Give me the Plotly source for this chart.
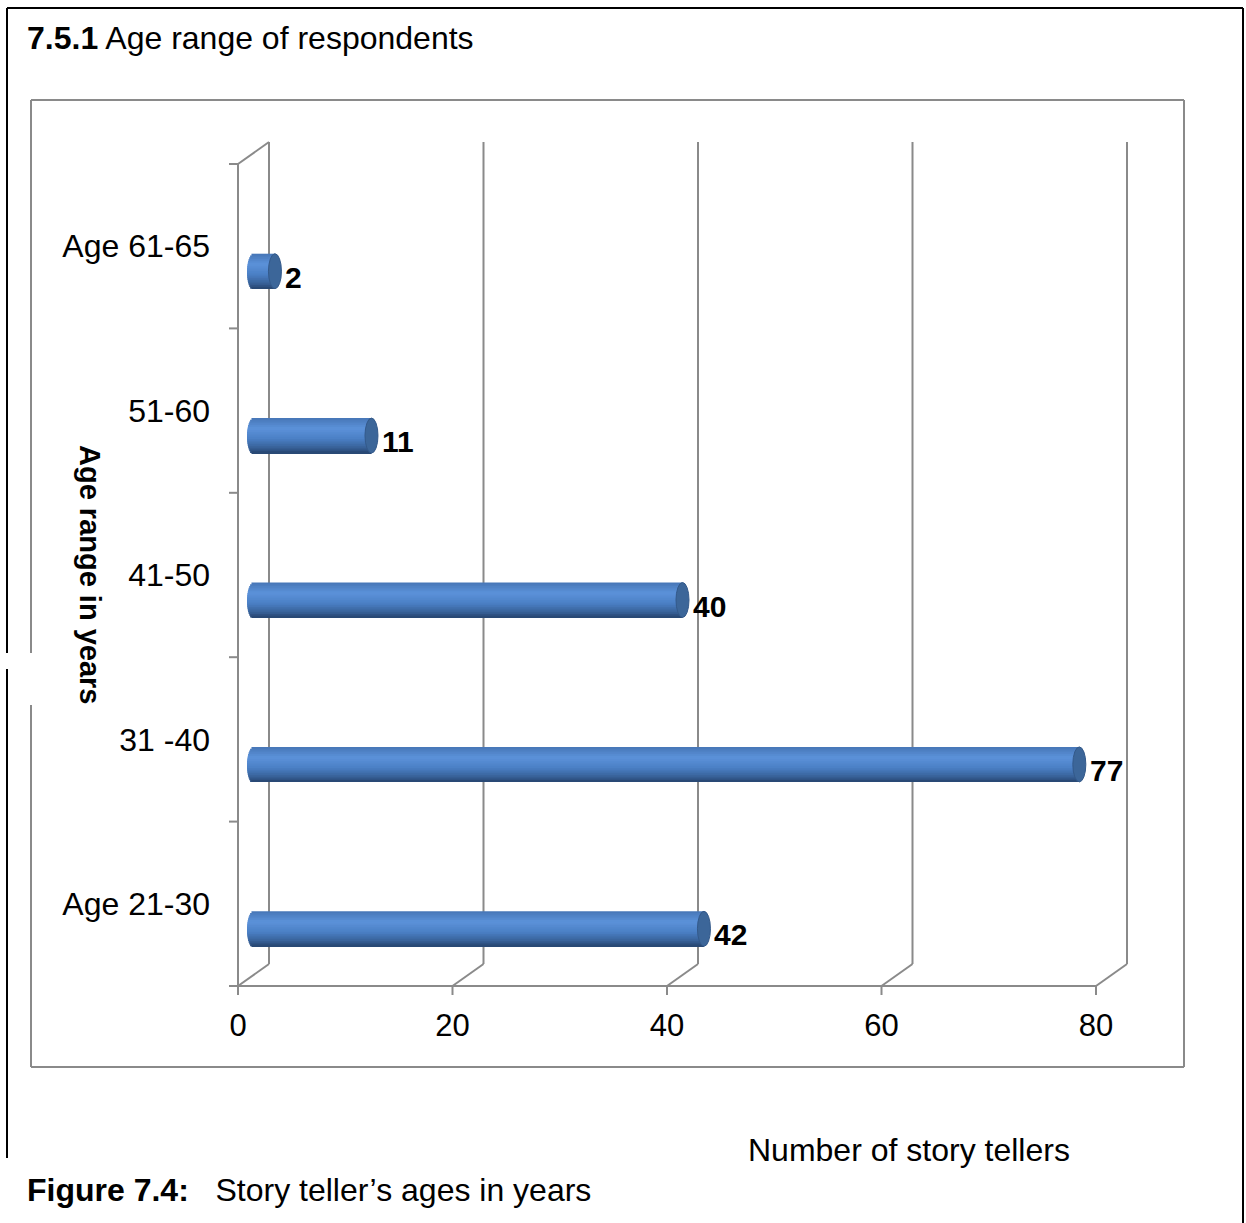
import math
import plotly.graph_objects as go

# ---- data -------------------------------------------------------------
categories = ["Age 21-30", "31 -40", "41-50", "51-60", "Age 61-65"]
counts = [42, 77, 40, 11, 2]
x_ticks = [0, 20, 40, 60, 80]

title_bold = "7.5.1"
title_text = "Age range of respondents"
y_title = "Age range in years"
x_title = "Number of story tellers"
caption_bold = "Figure 7.4:"
caption_text = "Story teller\u2019s ages in years"

# ---- page / plot geometry (pixels) ------------------------------------
W, H = 1246, 1223
FONT = "Liberation Sans, Arial, sans-serif"
PLOT_L, PLOT_R, PLOT_T, PLOT_B = 218, 1160, 125, 1002
X0_PX, XMAX_PX = 238, 1096          # where 0 and 80 fall on the front axis
Y0_PX, YTOP_PX = 986, 164           # front floor / top of category axis
X_MAX = 80
N_CAT = len(categories)

px_per_x = (XMAX_PX - X0_PX) / X_MAX
px_per_y = (Y0_PX - YTOP_PX) / N_CAT
x_range = [(PLOT_L - X0_PX) / px_per_x, (PLOT_R - X0_PX) / px_per_x]
y_range = [(Y0_PX - PLOT_B) / px_per_y, (Y0_PX - PLOT_T) / px_per_y]


def dx(px):
    return px / px_per_x


def dy(px):
    return px / px_per_y


def px_x(px):
    return px / W


def px_y(py):
    return 1 - py / H


# 3-D look: depth of the back wall, bar placement inside the box
DEPTH_X, DEPTH_Y = dx(31), dy(22)
BAR_X0 = dx(15.5)                   # bars start half way into the depth
BAR_DROP = dy(25)                   # bars sit a little below the category centre
BAR_TH = dy(35)                     # cylinder thickness
RX_PX = 6.5                         # end-cap half width
RX = dx(RX_PX)
GRID = "#8a8a8a"

fig = go.Figure()

# ---- cylinder bodies: overlapping horizontal strips give the shaded tube
ramp = [(0.0, (70, 118, 182)), (0.3, (92, 146, 218)), (0.6, (74, 127, 196)),
        (0.85, (56, 97, 152)), (1.0, (38, 68, 110))]


def shade(s):
    for (a, ca), (b, cb) in zip(ramp[:-1], ramp[1:]):
        if a <= s <= b:
            f = (s - a) / (b - a)
            c = [round(ca[k] + (cb[k] - ca[k]) * f) for k in range(3)]
            return "rgb(%d,%d,%d)" % tuple(c)
    return "rgb(%d,%d,%d)" % ramp[-1][1]


N_STRIPS = 20
STRIP_H = BAR_TH / N_STRIPS
centres = [k + 0.5 - BAR_DROP for k in range(N_CAT)]
for i in range(N_STRIPS):
    s = (i + 0.5) / N_STRIPS
    bulge = RX * math.sqrt(max(0.0, 1 - (2 * s - 1) ** 2))
    # every strip but the last reaches down under the next one, so no seams show
    top = (0.5 - i / N_STRIPS) * BAR_TH
    bottom = top - (STRIP_H * (2 if i < N_STRIPS - 1 else 1))
    fig.add_trace(go.Bar(
        orientation="h",
        y=[c + (top + bottom) / 2 for c in centres],
        x=[v + bulge for v in counts],
        base=[BAR_X0 - bulge] * N_CAT,
        width=top - bottom,
        marker=dict(color=shade(s), line_width=0),
        hoverinfo="skip",
        showlegend=False,
    ))

shapes = []


def seg(x0, y0, x1, y1, color=GRID, width=2, ref="data", layer="below"):
    r = dict(xref="x", yref="y") if ref == "data" else dict(xref="paper", yref="paper")
    shapes.append(dict(type="line", x0=x0, y0=y0, x1=x1, y1=y1, layer=layer,
                       line=dict(color=color, width=width), **r))


# back wall gridlines, floor diagonals and value-axis ticks
for v in x_ticks:
    seg(v + DEPTH_X, DEPTH_Y, v + DEPTH_X, N_CAT + DEPTH_Y)
    seg(v, 0, v + DEPTH_X, DEPTH_Y)
    seg(v, 0, v, -dy(9))

# front category axis, its top edge, floor line and category ticks
seg(0, 0, 0, N_CAT)
seg(0, N_CAT, DEPTH_X, N_CAT + DEPTH_Y)
seg(0, 0, X_MAX, 0)
for k in range(N_CAT + 1):
    seg(-dx(9), k, 0, k)

# cylinder end caps
for c, v in zip(centres, counts):
    shapes.append(dict(type="circle", xref="x", yref="y", layer="above",
                       x0=BAR_X0 + v - RX, x1=BAR_X0 + v + RX,
                       y0=c - BAR_TH / 2, y1=c + BAR_TH / 2,
                       fillcolor="#3c6699", line=dict(color="#33598a", width=1)))

# chart area border (grey) and page frame (black)
gx0, gx1, gy0, gy1 = 31, 1184, 100, 1067
seg(px_x(gx0), px_y(gy0), px_x(gx1), px_y(gy0), ref="paper", layer="above")
seg(px_x(gx1), px_y(gy0), px_x(gx1), px_y(gy1), ref="paper", layer="above")
seg(px_x(gx0), px_y(gy1), px_x(gx1), px_y(gy1), ref="paper", layer="above")
seg(px_x(gx0), px_y(gy0), px_x(gx0), px_y(653), ref="paper", layer="above")
seg(px_x(gx0), px_y(705), px_x(gx0), px_y(gy1), ref="paper", layer="above")

fx0, fx1, fy0 = 7, 1243, 8
seg(px_x(fx0), px_y(fy0), px_x(fx1), px_y(fy0), color="black", ref="paper", layer="above")
seg(px_x(fx1), px_y(fy0), px_x(fx1), px_y(H + 5), color="black", ref="paper", layer="above")
seg(px_x(fx0), px_y(fy0), px_x(fx0), px_y(653), color="black", ref="paper", layer="above")
seg(px_x(fx0), px_y(669), px_x(fx0), px_y(1158), color="black", ref="paper", layer="above")

annotations = []

# value labels beside each cylinder
for c, v in zip(centres, counts):
    annotations.append(dict(x=BAR_X0 + v, y=c, xref="x", yref="y", text="<b>%d</b>" % v,
                            showarrow=False, xanchor="left", yanchor="middle",
                            xshift=RX_PX + 2, yshift=-6,
                            font=dict(family=FONT, size=30, color="black")))


def page_text(text, x, y, size, xanchor="left", angle=0):
    annotations.append(dict(x=px_x(x), y=px_y(y), xref="paper", yref="paper", text=text,
                            showarrow=False, xanchor=xanchor, yanchor="middle",
                            textangle=angle,
                            font=dict(family=FONT, size=size, color="black")))


page_text("<b>%s</b> %s" % (title_bold, title_text), 25, 38, 32)
page_text("<b>%s</b>" % y_title, 90, 575, 29, xanchor="center", angle=90)
page_text(x_title, 746, 1150, 32)
page_text("<b>%s</b>\u00a0\u00a0\u00a0%s" % (caption_bold, caption_text), 25, 1190, 32)

fig.update_layout(
    width=W, height=H,
    margin=dict(l=0, r=0, t=0, b=0),
    paper_bgcolor="white", plot_bgcolor="rgba(0,0,0,0)",
    barmode="overlay",
    showlegend=False,
    shapes=shapes,
    annotations=annotations,
    xaxis=dict(domain=[PLOT_L / W, PLOT_R / W], range=x_range,
               tickvals=x_ticks, ticktext=[str(v) for v in x_ticks],
               ticks="", showgrid=False, zeroline=False, showline=False,
               ticklabelstandoff=2,
               tickfont=dict(family=FONT, size=31, color="black")),
    yaxis=dict(domain=[1 - PLOT_B / H, 1 - PLOT_T / H], range=y_range,
               tickvals=[k + 0.5 for k in range(N_CAT)], ticktext=categories,
               ticks="", showgrid=False, zeroline=False, showline=False,
               ticklabelstandoff=7,
               tickfont=dict(family=FONT, size=32, color="black")),
)

fig.write_html("out.html")
